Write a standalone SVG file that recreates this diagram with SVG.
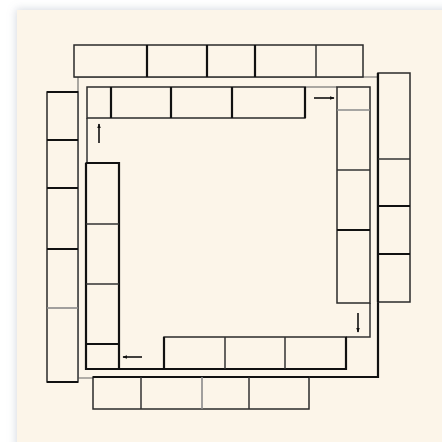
<svg xmlns="http://www.w3.org/2000/svg" width="442" height="442" viewBox="0 0 442 442">
<defs>
<filter id="sh" x="-10%" y="-10%" width="130%" height="130%">
<feDropShadow dx="-1" dy="-1" stdDeviation="4" flood-color="#8a96a8" flood-opacity="0.35"/>
</filter>
<marker id="ah" viewBox="0 0 8 8" refX="7" refY="4" markerWidth="5" markerHeight="5" orient="auto" markerUnits="userSpaceOnUse">
<path d="M0,1 L8,4 L0,7 Z" fill="#111"/>
</marker>
</defs>
<style>
.b{fill:#fcf5e9;stroke:#2a2a2a;stroke-width:1.5}
.k{stroke:#111;stroke-width:2.2;fill:none}
.m{stroke:#333;stroke-width:1.5;fill:none}
.g{stroke:#8a8a8a;stroke-width:1.6;fill:none}
.t{stroke:#666;stroke-width:1.1;fill:none}
.ar{stroke:#111;stroke-width:1.6;fill:none;marker-end:url(#ah)}
</style>
<rect x="0" y="0" width="442" height="442" fill="#ffffff"/>
<rect x="17" y="10" width="440" height="440" fill="#fcf5e9" filter="url(#sh)"/>

<g id="outer-wall">
<path class="t" d="M74,77 H378"/>
<path class="t" d="M78,77 V378 H93"/>
<path class="k" d="M378,73 V377 H93"/>
</g>

<g id="outer-top">
<rect class="b" x="74" y="45" width="289" height="32"/>
<path class="k" d="M147,45 V77 M207,45 V77 M255,45 V77"/>
<path class="m" d="M316,45 V77"/>
</g>

<g id="outer-right">
<rect class="b" x="378" y="73" width="32" height="229"/>
<path class="k" d="M378,73 V302"/>
<path class="m" d="M378,159 H410"/>
<path class="k" d="M378,206 H410 M378,254 H410"/>
</g>

<g id="outer-bottom">
<rect class="b" x="93" y="377" width="216" height="32"/>
<path class="k" d="M93,377 H309"/>
<path class="m" d="M141,377 V409 M249,377 V409"/>
<path class="g" d="M202,377 V409"/>
</g>

<g id="outer-left">
<rect class="b" x="47" y="92" width="31" height="290"/>
<path class="t" d="M78,92 V382"/>
<path class="k" d="M47,92 H78 M47,140 H78 M47,188 H78 M47,249 H78 M47,382 H78"/>
<path class="g" d="M47,308 H78"/>
</g>

<g id="inner-wall">
<path class="m" d="M87,118 V163"/>
<path class="t" d="M305,87 H337"/>
<path class="m" d="M370,303 V337 H346"/>
<path class="k" d="M119,369 H164"/>
</g>

<g id="inner-top">
<rect class="b" x="87" y="87" width="218" height="31"/>
<path class="k" d="M111,87 V118 M171,87 V118 M232,87 V118 M305,87 V118"/>
</g>

<g id="inner-right">
<rect class="b" x="337" y="87" width="33" height="216"/>
<path class="g" d="M337,110 H370"/>
<path class="m" d="M337,170 H370"/>
<path class="k" d="M337,230 H370"/>
</g>

<g id="inner-bottom">
<rect class="b" x="164" y="337" width="182" height="32"/>
<path class="k" d="M164,337 V369 H346 V337"/>
<path class="m" d="M225,337 V369 M285,337 V369"/>
</g>

<g id="inner-left">
<rect class="b" x="86" y="163" width="33" height="206"/>
<path class="k" d="M86,163 V369 H119 V163 H86"/>
<path class="m" d="M86,224 H119 M86,284 H119"/>
<path class="k" d="M86,344 H119"/>
</g>

<g id="connectors">
<path class="ar" d="M99,143 V124"/>
<path class="ar" d="M314,98 H334"/>
<path class="ar" d="M358,313 V332"/>
<path class="ar" d="M142,357 H123"/>
</g>
</svg>
